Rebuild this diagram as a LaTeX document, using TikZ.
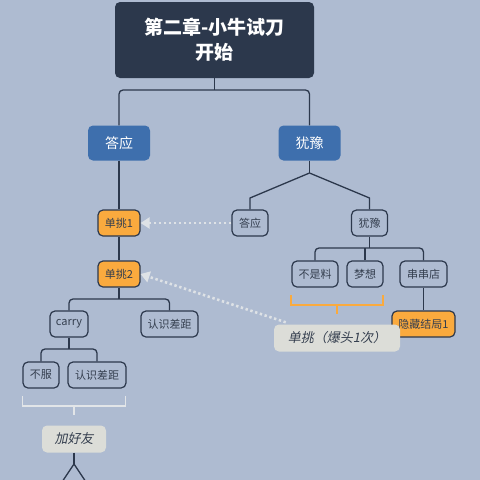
\documentclass[tikz,border=0pt]{standalone}
\usepackage{fontspec}
\setmainfont{Noto Sans CJK SC}
\newfontfamily\slantfont{Noto Sans CJK SC}[FakeSlant=0.2]
\usetikzlibrary{arrows.meta}
\definecolor{bgc}{RGB}{174,187,209}
\definecolor{darkc}{RGB}{44,56,76}
\definecolor{bluec}{RGB}{62,111,173}
\definecolor{orangec}{RGB}{250,170,62}
\definecolor{labelc}{RGB}{220,221,216}
\definecolor{textc}{RGB}{52,62,78}
\definecolor{brgray}{RGB}{226,229,232}
\definecolor{dotc}{RGB}{222,226,230}
\begin{document}
\begin{tikzpicture}[x=1pt,y=-1pt,
  rootbox/.style={fill=darkc, rounded corners=5pt, text=white, font=\fontsize{19}{25}\selectfont\bfseries, align=center, minimum width=199pt, minimum height=76pt, inner sep=0pt},
  bluebox/.style={fill=bluec, rounded corners=5pt, text=white, font=\fontsize{14}{16}\selectfont, minimum width=62pt, minimum height=35pt, inner sep=0pt},
  subbox/.style={draw=darkc, line width=1.2pt, fill=bgc, rounded corners=5pt, text=textc, font=\fontsize{11}{13}\selectfont, minimum height=26pt, inner sep=0pt},
  orbox/.style={subbox, fill=orangec},
  lab/.style={fill=labelc, rounded corners=5pt, text=textc, font=\fontsize{13}{15}\selectfont\slantfont, minimum height=27pt, inner sep=0pt},
  conn/.style={draw=darkc, line width=1.3pt, rounded corners=4pt},
  dotarrow/.style={draw=dotc, line width=2.6pt, dash pattern=on 2.4pt off 2.6pt, -{Triangle[length=9pt,width=11pt]}},
]
\fill[bgc] (0,0) rectangle (480,480);
\useasboundingbox (0,0) rectangle (480,480);

% nodes
\node[rootbox] (root) at (214.5,40) {第二章-小牛试刀\\开始};
\node[bluebox] (da) at (119,143) {答应};
\node[bluebox] (you) at (309.5,143) {犹豫};
\node[orbox, minimum width=42pt] (dt1) at (119,223) {单挑1};
\node[subbox, minimum width=36pt] (da2) at (250,223) {答应};
\node[subbox, minimum width=36pt] (you2) at (369.5,223) {犹豫};
\node[orbox, minimum width=42pt] (dt2) at (119,274) {单挑2};
\node[subbox, minimum width=46pt] (bsl) at (315,274) {不是料};
\node[subbox, minimum width=36pt] (mx) at (365,274) {梦想};
\node[subbox, minimum width=47pt] (ccd) at (423.5,274) {串串店};
\node[orbox, minimum width=63pt] (yc) at (423.5,324) {隐藏结局1};
\node[subbox, minimum width=38pt] (carry) at (69,324) {carry};
\node[subbox, minimum width=57pt] (rs1) at (169.5,324) {认识差距};
\node[subbox, minimum width=36pt] (bf) at (41,375) {不服};
\node[subbox, minimum width=58pt] (rs2) at (97,375) {认识差距};

% connectors
\coordinate (j1) at (214.5,90);
\draw[conn] (root.south) -- (j1);
\draw[conn] (da.north) |- (j1) -| (you.north);
\draw[conn] (da.south) -- (dt1.north);
\draw[conn] (dt1.south) -- (dt2.north);
\coordinate (j2) at (309.5,173);
\draw[conn] (you.south) -- (j2);
\draw[conn, rounded corners=0pt] (j2) -- (250,198) -- (da2.north);
\draw[conn, rounded corners=0pt] (j2) -- (369.5,198) -- (you2.north);
\coordinate (j3) at (369.5,248);
\draw[conn] (you2.south) -- (j3);
\draw[conn] (bsl.north) |- (j3) -| (ccd.north);
\draw[conn] (mx.north) -- (mx.north |- j3);
\draw[conn] (ccd.south) -- (yc.north);
\coordinate (j4) at (119,299);
\draw[conn] (dt2.south) -- (j4);
\draw[conn] (carry.north) |- (j4) -| (rs1.north);
\coordinate (j5) at (69,349);
\draw[conn] (carry.south) -- (j5);
\draw[conn] (bf.north) |- (j5) -| (rs2.north);

% brackets
\draw[orangec, line width=1.8pt] (291,295) -- (291,305) -- (383,305) -- (383,295);
\draw[orangec, line width=1.8pt] (337,305) -- (337,314);
\draw[brgray, line width=1.8pt] (22.5,396) -- (22.5,406) -- (125.5,406) -- (125.5,396);
\draw[brgray, line width=1.8pt] (74,406) -- (74,415);

% labels
\node[lab, minimum width=126pt] (l1) at (337,338) {单挑（爆头1次）};
\node[lab, minimum width=64pt] (l2) at (74,439) {加好友};

% bottom stub
\coordinate (j6) at (74,464);
\coordinate (e1) at (62,482);
\coordinate (e2) at (86,482);
\draw[conn] (l2.south) -- (j6);
\draw[conn, rounded corners=0pt] (e1) -- (j6) -- (e2);

% dotted arrows
\draw[dotarrow] (da2.west) -- (dt1.east);
\draw[dotarrow] (l1.north west) ++(12,-2) -- (dt2.east);
\end{tikzpicture}
\end{document}
